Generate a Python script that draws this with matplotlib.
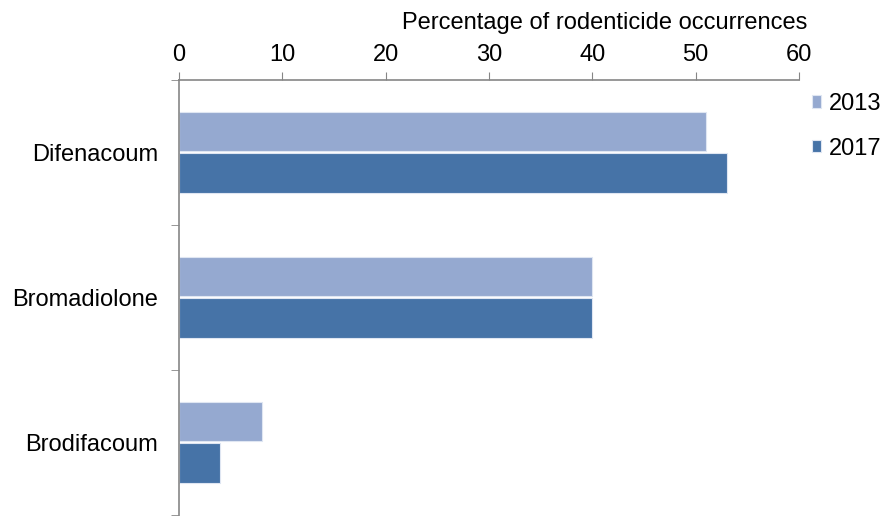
import numpy as np
import matplotlib.pyplot as plt

# data
compounds = ['Difenacoum', 'Bromadiolone', 'Brodifacoum']
pct_2013 = [51, 40, 8]
pct_2017 = [53, 40, 4]
years = ['2013', '2017']

plt.rcParams['font.family'] = ['Liberation Sans', 'DejaVu Sans']

fig = plt.figure(figsize=(8.85, 5.17), dpi=100)
ax = fig.add_axes([0.2023, 0.0039, 0.7005, 0.8414])

y = np.arange(len(compounds))
h = 0.27
ax.barh(y - h / 2 - 0.007, pct_2013, height=h, color='#95a9d0', edgecolor='#dfe6f2',
        linewidth=0.8, label=years[0])
ax.barh(y + h / 2 + 0.007, pct_2017, height=h, color='#4673a7', edgecolor='#dfe6f2',
        linewidth=0.8, label=years[1])

ax.set_xlim(0, 60)
ax.set_ylim(len(compounds) - 0.5, -0.5)
ax.xaxis.tick_top()
ax.xaxis.set_label_position('top')
ax.set_xticks(np.arange(0, 61, 10))
ax.set_xlabel('Percentage of rodenticide occurrences', fontsize=17, loc='right', labelpad=11)
ax.xaxis.label.set_x(1.013)

ax.set_yticks(y)
ax.set_yticklabels(compounds)
ax.set_yticks(np.arange(-0.5, len(compounds), 1), minor=True)
ax.tick_params(axis='y', which='major', length=0, pad=15, labelsize=17)
ax.tick_params(axis='y', which='minor', length=6, color='#868686', direction='out')
ax.tick_params(axis='x', length=6, color='#868686', labelsize=17, pad=4)

for s in ['right', 'bottom']:
    ax.spines[s].set_visible(False)
for s in ['top', 'left']:
    ax.spines[s].set_color('#868686')
    ax.spines[s].set_linewidth(1.2)

leg = ax.legend(loc='upper left', bbox_to_anchor=(1.005, 0.992), frameon=False,
                fontsize=17, handlelength=0.42, handleheight=0.42, handletextpad=0.33,
                labelspacing=0.97, borderaxespad=0)

fig.savefig('out.png', dpi=100)
